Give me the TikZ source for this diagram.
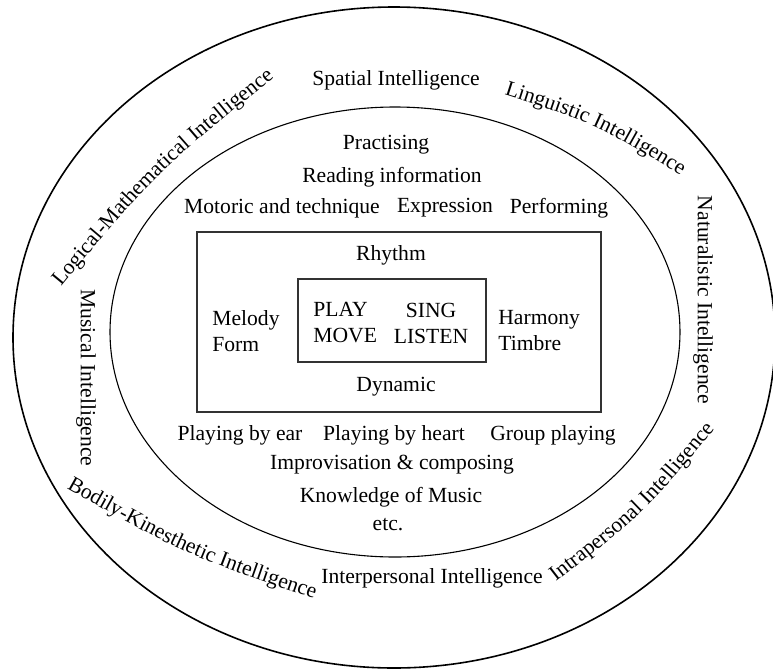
\documentclass[tikz,border=0pt]{standalone}
\usepackage{fontspec}
\setmainfont{Liberation Serif}
\usetikzlibrary{decorations.text}

\newcommand{\lblfont}{\fontsize{10.8}{13}\selectfont}

\tikzset{
  lbl/.style={font=\lblfont, inner sep=0pt},
  stack/.style={lbl, align=left},
  ring/.style={draw=black, line width=0.8pt},
  inring/.style={draw=black, line width=0.55pt},
  box/.style={draw=black!80, line width=0.7pt},
  bend text/.style={decorate, decoration={text along path, text={|\lblfont|#1}, text align=center}}
}

\begin{document}
\begin{tikzpicture}[x=0.5pt, y=-0.5pt]
  \useasboundingbox (0,0) rectangle (773,671);

  % Rings and boxes
  \draw[ring] (394,337.5) ellipse [x radius=381, y radius=330.5];
  \draw[inring] (395,332) ellipse [x radius=285, y radius=225];
  \draw[box] (197,232) rectangle (601,412);
  \draw[box] (298,279) rectangle (486,362);

  % Intelligences round the outer ring
  \node[lbl] (spatial) at (396,80) {Spatial Intelligence};
  \node[lbl] (inter) at (432,578) {Interpersonal Intelligence};
  \node[lbl, rotate=-90] (musical) at (86,378) {Musical Intelligence};
  \node[lbl, rotate=-90] (natural) at (703,300) {Naturalistic Intelligence};
  \path[bend text=Logical-Mathematical Intelligence] (37,316) .. controls (156.5,170.7) .. (304,54);
  \path[bend text=Linguistic Intelligence] (476,85.6) .. controls (598,124) .. (706,191.4);
  \path[bend text=Bodily-Kinesthetic Intelligence] (42.3,474.5) .. controls (184.8,555.5) .. (340.7,607.5);
  \path[bend text=Intrapersonal Intelligence] (532,600.4) .. controls (644,514.5) .. (734,405.6);

  % Activities, upper half
  \node[lbl] (practise) at (386,145) {Practising};
  \node[lbl] (reading) at (392,177) {Reading information};
  \node[lbl] (motoric) at (282,208) {Motoric and technique};
  \node[lbl] (express) at (445,208) {Expression};
  \node[lbl] (perform) at (559,208) {Performing};

  % Elements of music
  \node[lbl] (rhythm) at (391,255) {Rhythm};
  \node[lbl] (dynamic) at (396,387) {Dynamic};
  \node[stack, anchor=west] (melody) at (212,331) {Melody\\Form};
  \node[stack, anchor=west] (harmony) at (498,331) {Harmony\\Timbre};

  % Core
  \node[stack, anchor=west] (play) at (313,323) {PLAY\\MOVE};
  \node[lbl, align=center] (sing) at (431,323) {SING\\LISTEN};

  % Activities, lower half
  \node[lbl] (byear) at (240,435) {Playing by ear};
  \node[lbl] (byheart) at (394,435) {Playing by heart};
  \node[lbl] (group) at (553,435) {Group playing};
  \node[lbl] (improv) at (392,465) {Improvisation \& composing};
  \node[lbl] (knowledge) at (391,497) {Knowledge of Music};
  \node[lbl] (etc) at (388,525) {etc.};
\end{tikzpicture}
\end{document}
